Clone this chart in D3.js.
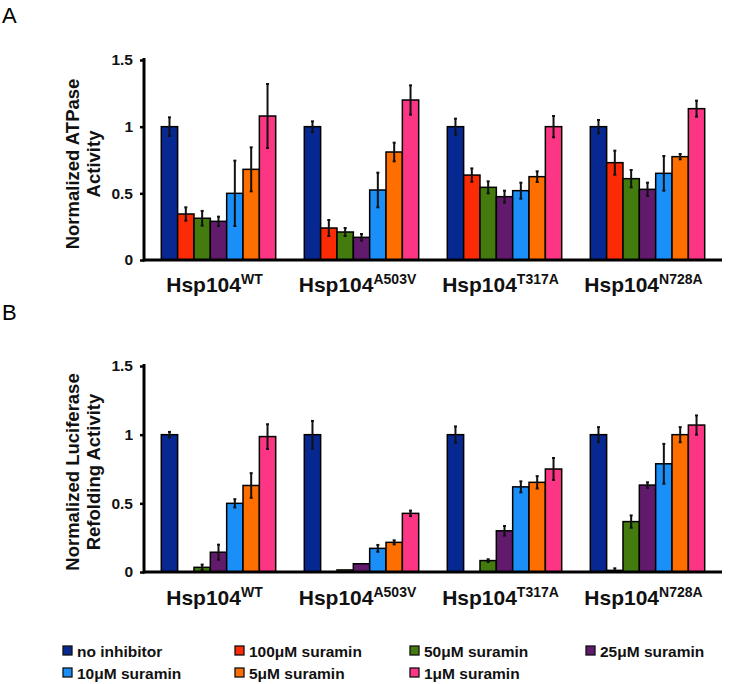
<!DOCTYPE html>
<html><head><meta charset="utf-8">
<script src="https://cdn.jsdelivr.net/npm/d3@7"></script>
<style>body{margin:0;background:#fff}svg{display:block}text{font-family:"Liberation Sans",Arial,sans-serif}</style>
</head><body><svg id="c" width="730" height="684"></svg>
<script>
const groups = ["WT","A503V","T317A","N728A"];
const series = ["no inhibitor","100μM suramin","50μM suramin","25μM suramin","10μM suramin","5μM suramin","1μM suramin"];
const colors = ["#072890","#fb2c05","#437b0f","#621b6c","#1a8ff8","#ff6f00","#fd3585"];
const yTicks = [0,0.5,1,1.5];
const yTickLabels = ["0","0.5","1","1.5"];
// Panel A: ATPase activity (rows = groups, cols = series)
const atpVals = [
  [1.0,0.345,0.313,0.29,0.50,0.68,1.08],
  [1.0,0.24,0.21,0.17,0.525,0.81,1.20],
  [1.0,0.637,0.545,0.475,0.52,0.625,1.0],
  [1.0,0.73,0.61,0.53,0.65,0.775,1.135]
];
const atpErr = [
  [0.07,0.05,0.055,0.035,0.245,0.165,0.24],
  [0.04,0.06,0.03,0.025,0.13,0.07,0.11],
  [0.06,0.05,0.045,0.045,0.06,0.04,0.08],
  [0.05,0.09,0.065,0.05,0.13,0.02,0.06]
];
// Panel B: luciferase refolding activity (null = no bar)
const lucVals = [
  [1.0,null,0.034,0.144,0.50,0.63,0.986],
  [1.0,null,0.015,0.06,0.172,0.216,0.427],
  [1.0,null,0.083,0.30,0.62,0.653,0.75],
  [1.0,0.012,0.367,0.633,0.788,1.0,1.07]
];
const lucErr = [
  [0.02,0,0.02,0.055,0.03,0.09,0.09],
  [0.10,0,0,0,0.025,0.015,0.02],
  [0.06,0,0.01,0.035,0.04,0.045,0.08],
  [0.055,0.015,0.045,0.02,0.145,0.055,0.07]
];

const svg = d3.select("#c");
const x0 = d3.scaleBand().domain(groups).range([147,719]).paddingInner(0.2).paddingOuter(0.1);
const x1 = d3.scaleBand().domain(series).range([0,x0.bandwidth()]);

function panel(letter, letterY, yRange, vals, errs, title1, title2, titleY, labelY){
  const y = d3.scaleLinear().domain([0,1.5]).range(yRange);
  const g = svg.append("g");
  g.append("text").attr("x",2).attr("y",letterY).attr("font-size",22).text(letter);
  groups.forEach((grp,gi)=>{
    const gg = g.append("g").attr("transform",`translate(${x0(grp)},0)`);
    series.forEach((s,si)=>{
      const v = vals[gi][si];
      if(v===null) return;
      gg.append("rect").attr("x",x1(s)).attr("y",y(v)).attr("width",x1.bandwidth())
        .attr("height",y(0)-y(v)).attr("fill",colors[si]).attr("stroke","#000").attr("stroke-width",1.5);
    });
    series.forEach((s,si)=>{
      const v = vals[gi][si], e = errs[gi][si];
      if(v===null || !e) return;
      const cx = x1(s)+x1.bandwidth()/2;
      gg.append("line").attr("x1",cx).attr("x2",cx).attr("y1",y(v+e)).attr("y2",y(Math.max(0,v-e)))
        .attr("stroke","#111").attr("stroke-width",2);
      [v+e, Math.max(0,v-e)].forEach(t=>gg.append("line").attr("x1",cx-1.5).attr("x2",cx+1.5)
        .attr("y1",y(t)).attr("y2",y(t)).attr("stroke","#111").attr("stroke-width",2));
    });
  });
  const ax = g.append("g").attr("transform","translate(144,0)")
    .call(d3.axisLeft(y).tickValues(yTicks).tickFormat((d,i)=>yTickLabels[i]).tickSize(4).tickPadding(7));
  ax.select(".domain").remove();
  ax.selectAll(".tick line").attr("stroke","#000").attr("stroke-width",2.5);
  ax.selectAll(".tick text").attr("font-size",15.5).attr("font-weight","bold").attr("fill","#111")
    .attr("font-family","'Liberation Sans',Arial,sans-serif");
  g.append("line").attr("x1",144).attr("x2",144).attr("y1",y(1.5)-2).attr("y2",y(0)+1.5).attr("stroke","#000").attr("stroke-width",3);
  g.append("line").attr("x1",143).attr("x2",722).attr("y1",y(0)).attr("y2",y(0)).attr("stroke","#000").attr("stroke-width",3);
  const t = g.append("text").attr("transform",`translate(79,${titleY}) rotate(-90)`)
    .attr("text-anchor","middle").attr("font-size",18.5).attr("font-weight","bold").attr("fill","#111");
  t.append("tspan").attr("x",0).attr("dy",0).text(title1);
  t.append("tspan").attr("x",0).attr("dy",21).text(title2);
  groups.forEach(grp=>{
    const tx = g.append("text").attr("x",x0(grp)+x0.bandwidth()/2-4).attr("y",labelY)
      .attr("text-anchor","middle").attr("font-weight","bold").attr("font-size",21).attr("fill","#111");
    tx.append("tspan").text("Hsp104");
    tx.append("tspan").attr("font-size",14).attr("dy",-8).text(grp);
  });
}
panel("A",23,[260,60],atpVals,atpErr,"Normalized ATPase","Activity",164,292);
panel("B",320,[572,366],lucVals,lucErr,"Normalized Luciferase","Refolding Activity",472,605);

const legX = [63,235,410,586];
const legY = [651,673];
series.forEach((s,i)=>{
  const cx = legX[i%4], cy = legY[Math.floor(i/4)];
  const lg = svg.append("g").attr("transform",`translate(${cx},${cy})`);
  lg.append("rect").attr("x",0).attr("y",-5).attr("width",9).attr("height",9)
    .attr("fill",colors[i]).attr("stroke","#111").attr("stroke-width",1.3);
  lg.append("text").attr("x",14).attr("y",5.5).attr("font-size",15.5).attr("font-weight","bold").attr("fill","#111").text(s);
});
</script></body></html>
